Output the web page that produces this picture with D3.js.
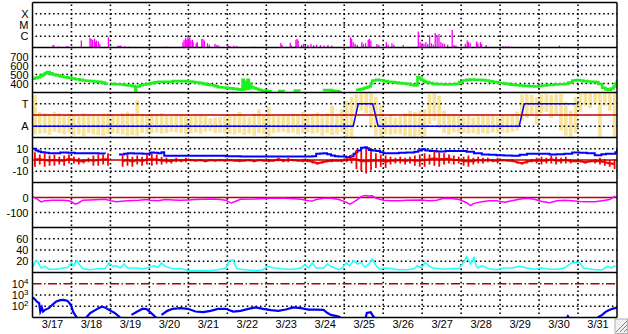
<!DOCTYPE html>
<html><head><meta charset="utf-8">
<script src="https://cdn.jsdelivr.net/npm/d3@7"></script>
<style>html,body{margin:0;padding:0;background:#fff;}svg{display:block;}</style>
</head><body><svg id="c" width="628" height="334"></svg>
<script>
// ---------------- DATA (day offset from 3/17 00:00) ----------------
const dayLabels = ["3/17","3/18","3/19","3/20","3/21","3/22","3/23","3/24","3/25","3/26","3/27","3/28","3/29","3/30","3/31"];

const xrayTicks = [1e-6, 1e-5, 1e-4];
const xrayLabels = ["C","M","X"];
const speedTicks = [400,500,600,700];
const sectorTicks = [135,315];
const sectorLabels = ["A","T"];
const imfTicks = [-10,0,10];
const dstTicks = [-100,0];
const densTicks = [20,40,60];
const elecTicks = [100,1000,10000];
const elecExp = ["2","3","4"];

// GOES X-ray flux bars [day, W/m2]
const xray = [[0.512,1.7e-7],[0.531,1.6e-7],[0.657,1.3e-7],[0.85,1.3e-7],[0.899,1.3e-7],[1.237,4.2e-7],
[1.459,7.2e-7],[1.488,5.9e-7],[1.527,4.8e-7],[1.575,5.9e-7],[1.594,3.0e-7],[1.623,4.2e-7],[1.671,3.6e-7],[1.71,2.1e-7],
[1.932,8.3e-7],[2.174,1.5e-7],[2.213,1.4e-7],[2.251,1.5e-7],[2.348,1.3e-7],[2.444,1.2e-7],[3.362,1.2e-7],[3.43,1.2e-7],
[3.845,3.0e-7],[3.874,4.8e-7],[3.913,7.2e-7],[3.942,4.8e-7],[3.971,9.5e-7],[3.99,5.9e-7],[4.019,8.3e-7],[4.048,4.2e-7],
[4.087,4.8e-7],[4.106,3.0e-7],[4.184,2.4e-7],[4.213,3.0e-7],[4.329,5.9e-7],[4.357,5.5e-7],[4.396,4.2e-7],[4.473,2.4e-7],
[4.522,1.8e-7],[4.667,2.1e-7],[4.715,1.7e-7],[4.763,1.5e-7],[5.005,1.5e-7],[5.053,1.4e-7],[5.15,1.5e-7],[5.227,1.4e-7],
[5.681,1.2e-7],[6.357,2.6e-7],[6.386,1.7e-7],[6.599,2.6e-7],[6.628,1.5e-7],[6.744,4.8e-7],[6.773,5.9e-7],[6.802,4.2e-7],
[6.889,1.7e-7],[6.937,2.1e-7],[6.986,1.5e-7],[7.053,1.7e-7],[7.13,2.1e-7],[7.198,1.6e-7],[7.275,1.8e-7],[7.372,1.7e-7],
[7.469,1.5e-7],[7.565,1.7e-7],[7.662,1.5e-7],[8.145,8.3e-7],[8.174,5.9e-7],[8.213,3.0e-7],[8.261,2.1e-7],[8.319,1.7e-7],
[8.435,3.0e-7],[8.473,2.1e-7],[8.531,2.4e-7],[8.599,4.8e-7],[8.628,5.9e-7],[8.667,4.2e-7],[8.821,2.1e-7],[8.87,1.7e-7],
[9.063,3.0e-7],[9.111,1.8e-7],[9.208,2.4e-7],[9.256,1.8e-7],[9.498,1.7e-7],[9.884,2.6e-6],[9.932,3.0e-7],[9.981,2.4e-7],
[10.029,2.1e-7],[10.077,3.0e-7],[10.126,2.1e-7],[10.174,1.2e-6],[10.222,2.4e-7],[10.271,1.8e-7],[10.319,2.0e-6],[10.367,1.2e-6],
[10.415,1.6e-6],[10.464,3.0e-7],[10.512,2.4e-7],[10.56,2.1e-7],[10.638,1.8e-7],[10.754,3.7e-6],[10.802,1.7e-7],[10.85,1.5e-7],
[11.092,2.1e-7],[11.14,4.2e-7],[11.169,3.0e-7],[11.217,2.4e-7],[11.382,3.6e-7],[11.411,2.4e-7],[11.478,3.0e-7],[11.507,2.1e-7],
[11.623,1.7e-7],[12.058,1.3e-7],[12.126,1.3e-7],[12.203,1.3e-7],[13.507,1.5e-7]];

// Solar wind speed [day, km/s]
const speed = [[0,452],[0.06,462],[0.13,470],[0.2,488],[0.27,500],[0.32,515],[0.37,526],[0.44,512],[0.51,500],[0.6,490],[0.71,478],[0.8,470],[0.9,463],[1.0,455],[1.09,448],[1.2,440],[1.29,433],[1.38,430],[1.48,426],[1.58,422],[1.67,419],[1.77,410],[1.86,396],[1.91,389],[1.96,null],
[2.01,396],[2.1,392],[2.25,389],[2.35,384],[2.44,378],[2.55,372],[2.62,367],[2.64,322],[2.66,367],[2.75,380],[2.83,389],[2.92,396],[3.02,404],[3.12,412],[3.22,419],[3.41,419],[3.6,426],[3.8,426],[3.99,422],[4.1,416],[4.18,411],[4.28,404],[4.38,396],[4.47,388],[4.57,381],[4.67,370],[4.76,359],[4.86,355],[4.96,352],[5.05,346],[5.15,341],[5.25,335],[5.34,330],[5.39,441],[5.42,335],[5.45,420],[5.48,340],[5.52,441],[5.55,345],[5.58,400],[5.61,360],[5.67,350],[5.73,341],[5.8,330],[5.87,322],[5.95,318],[6.02,315],[6.12,312],[6.18,null],[6.21,415],[6.23,null],[6.3,315],[6.45,312],[6.52,null],[6.6,433],[6.62,null],[6.7,322],[6.85,318],[6.95,null],[7.18,404],[7.2,null],[7.27,404],[7.29,null],[7.45,328],[7.55,326],[7.68,322],[7.72,315],[7.8,314],[7.9,316],[7.95,null],
[8.3,330],[8.4,338],[8.47,345],[8.53,352],[8.58,360],[8.63,367],[8.68,400],[8.72,433],[8.82,441],[8.9,436],[9.01,426],[9.11,420],[9.21,415],[9.3,410],[9.4,404],[9.5,400],[9.59,396],[9.7,386],[9.79,378],[9.84,382],[9.88,470],[9.93,455],[9.98,441],[10.03,428],[10.08,415],[10.18,405],[10.27,396],[10.4,392],[10.56,389],[10.7,392],[10.85,396],[10.95,415],[11.04,433],[11.14,440],[11.24,444],[11.33,442],[11.43,441],[11.52,437],[11.62,433],[11.72,424],[11.82,415],[11.95,405],[12.11,396],[12.25,388],[12.4,381],[12.5,377],[12.59,374],[12.75,370],[12.88,367],[12.98,372],[13.07,378],[13.2,384],[13.36,389],[13.5,392],[13.65,396],[13.75,410],[13.85,433],[13.95,438],[14.04,433],[14.13,426],[14.23,422],[14.33,418],[14.43,415],[14.52,395],[14.62,352],[14.7,338],[14.76,330],[14.84,345],[14.91,367],[14.96,400],[15,441]];

// IMF phi angle, 3-hour bins [low, high] in degrees
const phiBins = [
[70,385],[75,250],[80,240],[66,230],[90,250],[80,240],[70,230],[85,235],
[60,230],[70,220],[55,240],[80,225],[70,230],[65,220],[60,235],[75,240],
[80,230],[75,220],[70,240],[60,250],[65,240],[60,343],[80,235],[75,230],
[80,230],[85,235],[75,240],[80,225],[90,220],[85,230],[80,225],[70,215],
[80,215],[85,225],[75,230],[90,215],[95,200],[80,205],[85,210],[80,215],
[75,225],[70,230],[80,250],[65,215],[75,210],[60,235],[80,270],[75,225],
[55,290],[80,220],[85,215],[90,230],[80,220],[85,235],[70,230],[80,250],
[85,230],[75,235],[80,245],[60,230],[80,240],[65,300],[70,235],[90,270],
[45,340],[50,370],[250,390],[260,395],[240,398],[120,398],[60,370],[50,300],
[70,210],[66,230],[75,205],[70,215],[60,240],[55,260],[52,250],[60,255],
[60,270],[150,390],[180,398],[120,380],[80,260],[70,225],[85,230],[80,220],
[80,210],[75,225],[80,205],[70,215],[80,230],[75,215],[85,220],[80,210],
[85,225],[80,215],[90,230],[100,250],[180,390],[200,395],[220,385],[150,370],
[240,390],[250,395],[200,385],[230,392],[100,395],[60,330],[50,260],[80,370],
[250,400],[300,400],[280,400],[320,400],[50,398],[300,400],[260,400],[45,400]];

// Sector (A = 135, T = 315)
const sector = [[0,135],[8.23,135],[8.36,315],[8.73,315],[8.87,135],[12.49,135],[12.62,315],[13.95,315]];

// IMF Bt [day, nT]
const bt = [[0,9.9],[0.08,8.4],[0.15,7.6],[0.22,7.0],[0.32,6.4],[0.42,6.1],[0.71,6.7],[0.9,6.4],[1.09,6.1],[1.48,6.1],[1.7,5.8],[1.86,5.5],[1.98,null],[2.22,4.9],[2.35,5.5],[2.44,6.1],[2.6,5.8],[2.83,5.5],[3.02,6.7],[3.12,6.4],[3.22,6.1],[3.31,7.0],[3.38,3.7],[3.8,3.7],[4.18,3.7],[4.57,3.7],[4.96,3.4],[5.34,3.1],[5.73,3.1],[6.21,3.1],[6.7,3.1],[7.18,3.4],[7.28,5.5],[7.38,5.8],[7.47,6.1],[7.56,5.2],[7.66,4.0],[7.76,3.4],[7.86,3.1],[8.05,2.5],[8.15,3.4],[8.24,5.5],[8.3,7.0],[8.34,8.4],[8.43,10.8],[8.53,11.4],[8.58,10.5],[8.63,9.0],[8.72,8.4],[8.82,7.9],[8.92,7.0],[9.01,6.1],[9.21,6.1],[9.4,6.4],[9.59,6.7],[9.8,7.3],[9.9,8.4],[9.98,9.6],[10.08,8.4],[10.2,7.9],[10.37,7.6],[10.6,7.9],[10.95,7.9],[11.14,7.3],[11.33,6.1],[11.53,4.9],[11.72,4.6],[11.91,4.3],[12.1,4.0],[12.3,3.7],[12.5,4.6],[12.69,5.5],[12.98,5.5],[13.27,4.9],[13.45,5.2],[13.65,5.5],[13.85,6.7],[14.04,6.4],[14.23,6.1],[14.43,4.3],[14.6,5.2],[14.72,5.5],[14.91,5.5],[14.96,7.0],[15,9.9]];

// IMF Bz, 3-hour bins, high / low (nT)
const bzHi = [7,5,6,4,5,3,4,5, 3,2,1,2,4,5,5,6, null,null,4,5,3,4,3,5, 6,5,3,2,1,2,1,2, 1,0,1,0,1,0,1,0, 1,0,1,0,1,0,1,0, 1,0,2,1,2,1,0,1, 1,0,-2,-1,0,1,0,1, 2,5,9,8,10,8,6,5, 4,3,2,3,2,3,4,5, 6,5,8,7,6,5,4,3, 3,4,2,3,2,2,1,2, 1,0,1,-1,-2,0,1,2, 3,2,4,3,2,3,1,0, 0,-1,0,1,2,1,0,1];
const bzLo = [-6,-4,-6,-5,-5,-4,-5,-3, -3,-4,-3,-2,-5,-5,-4,-5, null,null,-6,-5,-6,-4,-5,-4, -5,-4,-4,-3,-3,-2,-2,-2, -1,-1,-1,-2,-1,-1,-1,-1, -1,-1,-2,-1,-1,-2,-1,-1, -2,-1,-1,-2,-2,-1,-1,-2, -2,-3,-4,-3,-2,-2,-1,-2, -2,-3,-8,-10,-12,-9,-7,-6, -7,-4,-3,-3,-4,-3,-5,-6, -6,-4,-5,-6,-4,-3,-4,-3, -5,-6,-4,-3,-3,-2,-2,-3, -1,-1,-2,-3,-4,-3,-2,-3, -4,-3,-3,-4,-3,-3,-3,-2, -2,-3,-2,-3,-4,-5,-6,-8];

// Dst [day, nT]
const dst = [[0,7],[0.06,-2],[0.13,-12],[0.22,-29],[0.32,-22],[0.51,-18],[0.8,-18],[0.92,-22],[1.0,-27],[1.09,-44],[1.19,-35],[1.29,-18],[1.48,-16],[1.86,-12],[2.01,-22],[2.15,-29],[2.44,-22],[2.73,-18],[2.93,-14],[3.02,-18],[3.22,-22],[3.41,-14],[3.6,-16],[3.8,-18],[4.0,-16],[4.18,-14],[4.57,-10],[4.76,-12],[4.96,-18],[5.1,-37],[5.2,-27],[5.34,-12],[5.73,-10],[6.12,-5],[6.5,-5],[6.89,-12],[7.08,-22],[7.18,-24],[7.28,-14],[7.47,-5],[7.66,-5],[7.86,-14],[8.05,-31],[8.14,-44],[8.24,-31],[8.34,-14],[8.43,5],[8.53,14],[8.63,10],[8.72,12],[8.82,-5],[9.01,-18],[9.21,-22],[9.4,-22],[9.59,-18],[9.98,-16],[10.17,-22],[10.37,-18],[10.56,-5],[10.75,-7],[10.95,-14],[11.14,-35],[11.24,-54],[11.33,-39],[11.53,-29],[11.72,-22],[11.91,-22],[12.11,-31],[12.3,-22],[12.49,-12],[12.69,-5],[12.88,-12],[13.07,-27],[13.27,-35],[13.46,-22],[13.65,-18],[13.85,-22],[14.04,-27],[14.23,-29],[14.43,-29],[14.62,-22],[14.81,-14],[14.96,10]];

// Proton density [day, p/cc]
const dens = [[0,8.3],[0.08,21],[0.14,18],[0.22,8],[0.32,11],[0.42,6],[0.61,6],[0.8,8],[0.9,9],[1.0,18],[1.04,12],[1.14,21],[1.19,15],[1.29,6.5],[1.48,5],[1.67,6.5],[1.86,6.5],[1.96,17],[2.06,11],[2.15,12],[2.25,8],[2.35,15],[2.44,8],[2.64,8],[2.83,6.5],[2.98,9],[3.12,12],[3.22,9],[3.31,17],[3.41,11],[3.6,6.5],[3.8,7],[3.99,3.6],[4.18,3.6],[4.57,3.6],[4.76,5],[4.96,8],[5.05,21],[5.15,22.5],[5.2,12],[5.25,6.5],[5.44,5],[5.73,3.6],[5.92,5],[6.02,11],[6.21,8],[6.5,6],[6.7,6],[6.89,8],[6.99,14],[7.08,8],[7.18,17],[7.28,8],[7.47,8],[7.57,15],[7.66,11],[7.86,5],[7.95,8],[8.05,17],[8.14,12],[8.24,21],[8.34,15],[8.43,18],[8.53,9.5],[8.63,15],[8.72,24],[8.82,12],[8.92,5],[9.01,8],[9.21,7],[9.4,5],[9.59,5],[9.79,6.5],[9.88,12],[9.98,8],[10.08,18],[10.17,12],[10.27,8],[10.56,6],[10.75,7],[10.95,6.5],[11.09,21],[11.14,28],[11.24,15],[11.33,27],[11.38,12],[11.43,8],[11.53,12],[11.72,6.5],[11.91,5],[12.11,8],[12.3,8],[12.49,11],[12.69,8],[12.88,6],[13.07,8],[13.27,6],[13.46,6],[13.65,8],[13.85,18],[14.04,18],[14.14,8],[14.23,7],[14.43,5],[14.62,5],[14.76,11],[14.86,8],[14.96,12]];

// >2 MeV electron flux [day, pfu]
const elec = [[0,603],[0.05,457],[0.11,263],[0.17,186],[0.2,34],[0.24,78],[0.27,34],[0.32,48],[0.42,68],[0.51,135],[0.61,263],[0.71,347],[0.8,372],[0.9,302],[0.95,186],[1.0,95],[1.04,34],[1.09,17],[1.14,10],[1.16,null],[1.38,10],[1.48,25],[1.62,48],[1.77,91],[1.86,78],[2.01,39],[2.11,25],[2.25,10],[2.27,null],[2.54,17],[2.69,34],[2.83,60],[2.93,55],[3.02,30],[3.17,10],[3.2,null],[3.31,17],[3.46,39],[3.6,59],[3.8,68],[3.99,59],[4.18,34],[4.38,30],[4.57,39],[4.76,59],[4.96,59],[5.15,34],[5.34,39],[5.54,59],[5.73,78],[5.92,59],[6.12,45],[6.31,39],[6.5,51],[6.7,78],[6.89,68],[7.08,51],[7.28,51],[7.47,48],[7.57,25],[7.66,17],[7.86,12],[7.9,10],[7.92,null],[8.55,10],[8.58,25],[8.68,30],[8.72,17],[8.77,10],[8.79,null],[13.72,10],[13.74,13],[13.76,10],[13.78,null],[14.5,10],[14.62,17],[14.7,30],[14.76,39],[14.88,59],[14.95,68],[15,78]];

// ---------------- DRAWING ----------------
const svg = d3.select("#c");
const FONT = "'Liberation Sans', Arial, Helvetica, sans-serif";
const X0 = 32.5, X1 = 617, T0 = 2.5, PH = 45, NP = 7;
const x = d3.scaleLinear().domain([0,15]).range([X0,X1]);
const rng = i => [T0 + PH*(i+1), T0 + PH*i];
const yXr = d3.scaleLog().domain([1e-7,1e-3]).range(rng(0));
const ySp = d3.scaleLinear().domain([300,800]).range(rng(1));
const yPh = d3.scaleLinear().domain([45,405]).range(rng(2));
const yB  = d3.scaleLinear().domain([-20,20]).range(rng(3));
const yDs = d3.scaleLinear().domain([-200,100]).range(rng(4));
const yDn = d3.scaleLinear().domain([0,80]).range(rng(5));
const yEl = d3.scaleLog().domain([10,1e5]).range(rng(6));

const defs = svg.append("defs");
function clip(i){
  const id = "cp"+i;
  defs.append("clipPath").attr("id",id).append("rect")
    .attr("x",X0).attr("y",T0+PH*i).attr("width",X1-X0).attr("height",PH);
  return "url(#"+id+")";
}

// Panel 3 yellow phi cloud (drawn under the grid like the reference's light points)
const g3b = svg.append("g").attr("clip-path",clip(2));
g3b.selectAll("rect.phi").data(phiBins).join("rect").attr("class","phi")
  .attr("x",(d,i)=>x(i/8)+0.6).attr("width",(d,i)=>x((i+1)/8)-x(i/8)-1.2)
  .attr("y",d=>yPh(d[1])).attr("height",d=>yPh(d[0])-yPh(d[1]))
  .attr("fill","#f8e39a");

// dotted grid
const grid = svg.append("g");
function dotted(sel){ return sel.attr("stroke","#000").attr("stroke-width",1.6).attr("stroke-dasharray","1.6,2.8"); }
function hdot(y){ dotted(grid.append("line").attr("x1",X0+3).attr("x2",X1).attr("y1",y).attr("y2",y)); }
for (let d=1; d<15; d++) dotted(grid.append("line").attr("x1",x(d)).attr("x2",x(d)).attr("y1",T0+2).attr("y2",T0+PH*NP));
xrayTicks.forEach(v=>hdot(yXr(v)));
speedTicks.forEach(v=>hdot(ySp(v)));
sectorTicks.forEach(v=>hdot(yPh(v)));
[-10,10].forEach(v=>hdot(yB(v)));
[-100].forEach(v=>hdot(yDs(v)));
densTicks.forEach(v=>hdot(yDn(v)));
[100,1000].forEach(v=>hdot(yEl(v)));

function hline(y, color, w, dash){
  const l = svg.append("line").attr("x1",X0).attr("x2",X1).attr("y1",y).attr("y2",y)
    .attr("stroke",color).attr("stroke-width",w);
  if (dash) l.attr("stroke-dasharray",dash);
}
const DR = "#c00000";

// Panel 1: X-ray bars
svg.append("g").attr("clip-path",clip(0)).selectAll("rect").data(xray).join("rect")
  .attr("x",d=>x(d[0])).attr("width",1.3)
  .attr("y",d=>yXr(d[1])).attr("height",d=>yXr(1e-7)-yXr(d[1]))
  .attr("fill","#ff00ff");

// Panel 2: speed
svg.append("path").attr("clip-path",clip(1)).datum(speed)
  .attr("d",d3.line().defined(d=>d[1]!=null).x(d=>x(d[0])).y(d=>ySp(d[1])).curve(d3.curveStepAfter))
  .attr("fill","none").attr("stroke","#1ef01e").attr("stroke-width",2.6);

// Panel 3: sector
const g3 = svg.append("g").attr("clip-path",clip(2));
hline(yPh(225), DR, 1.5);
g3.append("path").datum(sector)
  .attr("d",d3.line().x(d=>x(d[0])).y(d=>yPh(d[1])))
  .attr("fill","none").attr("stroke","#0000ff").attr("stroke-width",1.5);

// Panel 4: Bt / Bz
const g4 = svg.append("g").attr("clip-path",clip(3));
hline(yB(0), DR, 1.5);
g4.append("path").datum(bt)
  .attr("d",d3.line().defined(d=>d[1]!=null).x(d=>x(d[0])).y(d=>yB(d[1])).curve(d3.curveStepAfter))
  .attr("fill","none").attr("stroke","#0000ff").attr("stroke-width",2);
const bzBins = bzHi.map((h,i)=>({t:i/8+1/16, h:h, l:bzLo[i]}));
g4.selectAll("line.bz").data(bzBins.filter(d=>d.h!=null)).join("line").attr("class","bz")
  .attr("x1",d=>x(d.t)).attr("x2",d=>x(d.t)).attr("y1",d=>yB(d.h)).attr("y2",d=>yB(d.l))
  .attr("stroke","#ff0000").attr("stroke-width",1.8);
g4.append("path").datum(bzBins)
  .attr("d",d3.line().defined(d=>d.h!=null).x(d=>x(d.t)).y(d=>yB((d.h+d.l)/2)))
  .attr("fill","none").attr("stroke","#ff0000").attr("stroke-width",2.2);

// Panel 5: Dst
hline(yDs(0), DR, 1.5);
svg.append("path").attr("clip-path",clip(4)).datum(dst)
  .attr("d",d3.line().x(d=>x(d[0])).y(d=>yDs(d[1])))
  .attr("fill","none").attr("stroke","#ff00ff").attr("stroke-width",1.5);

// Panel 6: density
svg.append("path").attr("clip-path",clip(5)).datum(dens)
  .attr("d",d3.line().x(d=>x(d[0])).y(d=>yDn(d[1])))
  .attr("fill","none").attr("stroke","#22ffff").attr("stroke-width",1.5);

// Panel 7: electrons
hline(yEl(1e4), "#b00000", 1.5, "9,2.5,1.5,2.5");
svg.append("path").attr("clip-path",clip(6)).datum(elec)
  .attr("d",d3.line().defined(d=>d[1]!=null).x(d=>x(d[0])).y(d=>yEl(d[1])))
  .attr("fill","none").attr("stroke","#0000ff").attr("stroke-width",2.2);

// Axes (left labels)
function yAxis(scale, ticks, labels, fs){
  const g = svg.append("g").attr("transform","translate("+X0+",0)")
    .call(d3.axisLeft(scale).tickValues(ticks).tickFormat((d,i)=>labels[i]).tickSize(0).tickPadding(4));
  g.select(".domain").remove();
  g.attr("font-size",fs||11).attr("font-family",FONT);
  g.selectAll("text").attr("fill","#000");
  return g;
}
yAxis(yXr, xrayTicks, xrayLabels);
yAxis(ySp, speedTicks, speedTicks.map(String));
yAxis(yPh, sectorTicks, sectorLabels);
yAxis(yB, imfTicks, imfTicks.map(String));
yAxis(yDs, dstTicks, dstTicks.map(String));
yAxis(yDn, densTicks, densTicks.map(String));
const ge = yAxis(yEl, elecTicks, elecTicks.map(()=> "10"));
ge.selectAll("text").each(function(d,i){
  d3.select(this).append("tspan").attr("dy","-0.5em").attr("font-size",8).text(elecExp[i]);
});

// Bottom day labels
const gx = svg.append("g").attr("transform","translate(0,"+(T0+PH*NP)+")")
  .call(d3.axisBottom(x).tickValues(dayLabels.map((_,i)=>i+0.5)).tickFormat((d,i)=>dayLabels[i]).tickSize(0).tickPadding(3));
gx.select(".domain").remove();
gx.attr("font-size",11).attr("font-family",FONT);
gx.selectAll("text").attr("fill","#000");

// Panel borders
for (let i=0;i<=NP;i++) svg.append("line").attr("x1",X0).attr("x2",X1).attr("y1",T0+PH*i).attr("y2",T0+PH*i).attr("stroke","#000").attr("stroke-width",1.5);
[X0,X1].forEach(xx=>svg.append("line").attr("x1",xx).attr("x2",xx).attr("y1",T0).attr("y2",T0+PH*NP).attr("stroke","#000").attr("stroke-width",1.5));

// Resize grip
const grip = svg.append("g");
grip.append("rect").attr("x",615).attr("y",319).attr("width",12.5).attr("height",14.5).attr("fill","#f0f0f0").attr("stroke","#b0b0b0").attr("stroke-width",1);
[[624,332,627,329],[620,332,627,325],[616,332,627,321]].forEach(s=>
  grip.append("line").attr("x1",s[0]).attr("y1",s[1]).attr("x2",s[2]).attr("y2",s[3]).attr("stroke","#808080").attr("stroke-width",1));
</script></body></html>
